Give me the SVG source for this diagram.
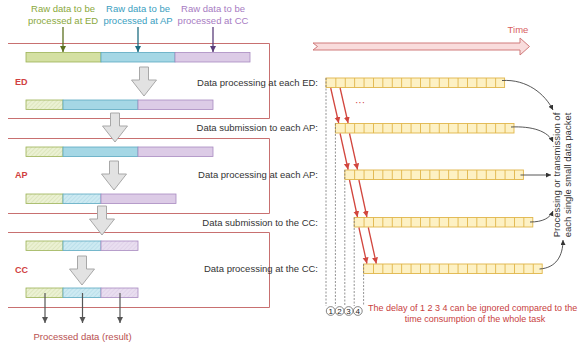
<svg xmlns="http://www.w3.org/2000/svg" width="582" height="346" viewBox="0 0 582 346">
<defs>
<style>
text{font-family:"Liberation Sans",Arial,sans-serif}
.lbl{font-size:9.5px;fill:#333}
.red{fill:#d04040;font-weight:bold;font-size:9px}
.box{fill:none;stroke:#c87070;stroke-width:1}
.g{fill:#d4e0a2;stroke:#9cb256;stroke-width:0.8}
.b{fill:#a5d7e5;stroke:#5aa9c0;stroke-width:0.8}
.p{fill:#dccbe6;stroke:#a98ac0;stroke-width:0.8}
.gh{fill:url(#hg);stroke:#9cb256;stroke-width:0.8}
.bh{fill:url(#hb);stroke:#5aa9c0;stroke-width:0.8}
.ph{fill:url(#hp);stroke:#a98ac0;stroke-width:0.8}
.blk{fill:#e2e2e2;stroke:#a8a8a8;stroke-width:1}
.row{fill:#fdf1c4;stroke:#e0b54a;stroke-width:0.9}
.div{stroke:#e0b54a;stroke-width:9.5;stroke-dasharray:0.9 8.5}
.dash{stroke:#777;stroke-width:0.8;stroke-dasharray:2 1.5;fill:none}
.ra{stroke:#d2463e;stroke-width:1.3;fill:none;marker-end:url(#mr)}
.ca{stroke:#444;stroke-width:0.9;fill:none;marker-end:url(#mk)}
.out{stroke:#555;stroke-width:1.2;fill:none;marker-end:url(#mo)}
</style>
<pattern id="hg" patternUnits="userSpaceOnUse" width="3" height="3" patternTransform="rotate(45)"><rect width="3" height="3" fill="#ebf1d3"/><line x1="0" y1="0" x2="0" y2="3" stroke="#d2dcaa" stroke-width="1"/></pattern>
<pattern id="hb" patternUnits="userSpaceOnUse" width="3" height="3" patternTransform="rotate(45)"><rect width="3" height="3" fill="#cdeaf2"/><line x1="0" y1="0" x2="0" y2="3" stroke="#acd7e5" stroke-width="1"/></pattern>
<pattern id="hp" patternUnits="userSpaceOnUse" width="3" height="3" patternTransform="rotate(45)"><rect width="3" height="3" fill="#e9def0"/><line x1="0" y1="0" x2="0" y2="3" stroke="#d8c8e3" stroke-width="1"/></pattern>
<path id="blkArrow" class="blk" d="M-4.5,0 H4.5 V13 H12.5 L0,29 L-12.5,13 H-4.5 Z"/>
<marker id="mr" markerWidth="8" markerHeight="8" refX="6" refY="3" orient="auto" markerUnits="userSpaceOnUse"><path d="M0,0 L6,3 L0,6 Z" fill="#d2463e"/></marker>
<marker id="mk" markerWidth="7" markerHeight="7" refX="5" refY="2.5" orient="auto" markerUnits="userSpaceOnUse"><path d="M0,0 L5,2.5 L0,5 Z" fill="#333"/></marker>
<marker id="mo" markerWidth="8" markerHeight="8" refX="6" refY="3" orient="auto" markerUnits="userSpaceOnUse"><path d="M0,0 L6,3 L0,6 Z" fill="#555"/></marker>
<marker id="mG" markerWidth="8" markerHeight="8" refX="6" refY="3" orient="auto" markerUnits="userSpaceOnUse"><path d="M0,0 L6,3 L0,6 Z" fill="#5c7020"/></marker>
<marker id="mB" markerWidth="8" markerHeight="8" refX="6" refY="3" orient="auto" markerUnits="userSpaceOnUse"><path d="M0,0 L6,3 L0,6 Z" fill="#1f6e82"/></marker>
<marker id="mP" markerWidth="8" markerHeight="8" refX="6" refY="3" orient="auto" markerUnits="userSpaceOnUse"><path d="M0,0 L6,3 L0,6 Z" fill="#5b3e7a"/></marker>
</defs>
<rect width="582" height="346" fill="#fff"/>

<!-- Top labels -->
<g id="label-raw-ed" font-size="9.5" fill="#8aa83c" text-anchor="middle">
<text x="63" y="12">Raw data to be</text><text x="63" y="24">processed at ED</text>
</g>
<g id="label-raw-ap" font-size="9.5" fill="#3a9ec0" text-anchor="middle">
<text x="138" y="12">Raw data to be</text><text x="138" y="24">processed at AP</text>
</g>
<g id="label-raw-cc" font-size="9.5" fill="#a77bc2" text-anchor="middle">
<text x="213" y="12">Raw data to be</text><text x="213" y="24">processed at CC</text>
</g>

<!-- Boxes -->
<g id="box-ed"><path class="box" d="M8,43.5 H269.5 V118.5 H8"/><text class="red" x="15" y="85">ED</text></g>
<g id="box-ap"><path class="box" d="M8,138.5 H269.5 V213.5 H8"/><text class="red" x="15" y="178">AP</text></g>
<g id="box-cc"><path class="box" d="M8,232.5 H269.5 V307.5 H8"/><text class="red" x="15" y="273">CC</text></g>

<!-- Bars -->
<g id="bar1"><rect class="g" x="26" y="52.5" width="75" height="9.5"/><rect class="b" x="101" y="52.5" width="74" height="9.5"/><rect class="p" x="175" y="52.5" width="75" height="9.5"/></g>
<g id="bar2"><rect class="gh" x="26" y="100" width="37" height="9.5"/><rect class="b" x="63" y="100" width="75" height="9.5"/><rect class="p" x="138" y="100" width="75" height="9.5"/></g>
<g id="bar3"><rect class="gh" x="26" y="147" width="37" height="9.5"/><rect class="b" x="63" y="147" width="75" height="9.5"/><rect class="p" x="138" y="147" width="75" height="9.5"/></g>
<g id="bar4"><rect class="gh" x="26" y="194" width="37" height="9.5"/><rect class="bh" x="63" y="194" width="38" height="9.5"/><rect class="p" x="101" y="194" width="75" height="9.5"/></g>
<g id="bar5"><rect class="gh" x="26" y="241" width="37" height="9.5"/><rect class="bh" x="63" y="241" width="38" height="9.5"/><rect class="ph" x="101" y="241" width="37" height="9.5"/></g>
<g id="bar6"><rect class="gh" x="26" y="288" width="37" height="9.5"/><rect class="bh" x="63" y="288" width="38" height="9.5"/><rect class="ph" x="101" y="288" width="37" height="9.5"/></g>

<!-- Block arrows -->
<g id="step-arrows">
<use href="#blkArrow" transform="translate(144,67)"/>
<use href="#blkArrow" transform="translate(115,113)"/>
<use href="#blkArrow" transform="translate(114,161)"/>
<use href="#blkArrow" transform="translate(102,206)"/>
<use href="#blkArrow" transform="translate(82,256)"/>
</g>

<!-- Step labels -->
<g id="step-labels" class="lbl" text-anchor="end">
<text class="lbl" x="318" y="85.5">Data processing at each ED:</text>
<text class="lbl" x="318" y="131">Data submission to each AP:</text>
<text class="lbl" x="318" y="178">Data processing at each AP:</text>
<text class="lbl" x="318" y="225.5">Data submission to the CC:</text>
<text class="lbl" x="318" y="272">Data processing at the CC:</text>
</g>

<!-- Result label -->
<g id="label-result"><text x="82.5" y="340" font-size="9.5" fill="#b85050" text-anchor="middle">Processed data (result)</text></g>

<!-- Time arrow -->
<g id="time-arrow">
<path d="M313,43 H520 V38 L529.5,46.5 L520,55 V50 H313 L317.5,46.5 Z" fill="#f9dcdc" stroke="#d07a7a" stroke-width="1"/>
<text x="518" y="33" font-size="9.5" fill="#d86060" text-anchor="middle">Time</text>
</g>

<!-- Packet rows -->
<g id="row-ed"><rect class="row" x="326" y="78" width="178.6" height="9.5"/><line class="div" x1="335.4" y1="82.75" x2="504" y2="82.75"/></g>
<g id="row-ap-sub"><rect class="row" x="335.4" y="123.5" width="178.6" height="9.5"/><line class="div" x1="344.8" y1="128.25" x2="513.5" y2="128.25"/></g>
<g id="row-ap-proc"><rect class="row" x="344.8" y="170" width="178.6" height="9.5"/><line class="div" x1="354.2" y1="174.75" x2="523" y2="174.75"/></g>
<g id="row-cc-sub"><rect class="row" x="354.2" y="217.5" width="178.6" height="9.5"/><line class="div" x1="363.6" y1="222.25" x2="532.5" y2="222.25"/></g>
<g id="row-cc-proc"><rect class="row" x="363.6" y="264" width="178.6" height="9.5"/><line class="div" x1="373" y1="268.75" x2="542" y2="268.75"/></g>

<!-- Vertical label -->
<g id="label-packet" font-size="9.5" fill="#333" text-anchor="middle">
<text x="560" y="175" transform="rotate(-90 560 175)">Processing or transmission of</text>
<text x="571" y="175" transform="rotate(-90 571 175)">each single small data packet</text>
</g>

<!-- Delay markers -->
<g id="delay-markers">
<circle cx="330.7" cy="311" r="4.4" fill="#fff" stroke="#666" stroke-width="0.8"/>
<circle cx="339.6" cy="311" r="4.4" fill="#fff" stroke="#666" stroke-width="0.8"/>
<circle cx="348.6" cy="311" r="4.4" fill="#fff" stroke="#666" stroke-width="0.8"/>
<circle cx="357.8" cy="311" r="4.4" fill="#fff" stroke="#666" stroke-width="0.8"/>
<g font-size="8" fill="#222" text-anchor="middle">
<text x="330.7" y="314">1</text><text x="339.6" y="314">2</text><text x="348.6" y="314">3</text><text x="357.8" y="314">4</text>
</g>
</g>
<g id="label-delay" font-size="9" fill="#c84040">
<text x="368" y="310.5">The delay of 1 2 3 4 can be ignored compared to the</text>
<text x="475" y="321.5" text-anchor="middle">time consumption of the whole task</text>
</g>
<g id="label-dots"><text x="360" y="106" font-size="10" fill="#d04040" text-anchor="middle">···</text></g>

<!-- Connectors -->
<g id="connectors">
<line x1="63" y1="27" x2="63" y2="52" stroke="#5c7020" stroke-width="1.3" marker-end="url(#mG)"/>
<line x1="138" y1="27" x2="138" y2="52" stroke="#1f6e82" stroke-width="1.3" marker-end="url(#mB)"/>
<line x1="213" y1="27" x2="213" y2="52" stroke="#5b3e7a" stroke-width="1.3" marker-end="url(#mP)"/>

<line class="out" x1="45" y1="293" x2="45" y2="323"/>
<line class="out" x1="82.5" y1="293" x2="82.5" y2="323"/>
<line class="out" x1="120" y1="293" x2="120" y2="323"/>

<path class="dash" d="M326,78 V306 M335.4,123.5 V306 M344.8,170 V306 M354.2,217.5 V306 M363.6,264 V306"/>

<line class="ra" x1="330.7" y1="88" x2="338.7" y2="123"/>
<line class="ra" x1="340.1" y1="88" x2="348.1" y2="123"/>
<line class="ra" x1="340.1" y1="133.5" x2="348.1" y2="169.5"/>
<line class="ra" x1="349.5" y1="133.5" x2="357.5" y2="169.5"/>
<line class="ra" x1="349.5" y1="180" x2="357.5" y2="217"/>
<line class="ra" x1="358.9" y1="180" x2="366.9" y2="217"/>
<line class="ra" x1="358.9" y1="227.5" x2="366.9" y2="263.5"/>
<line class="ra" x1="368.3" y1="227.5" x2="376.3" y2="263.5"/>

<path class="ca" d="M502,80.5 C527,79 545,94 553,110"/>
<path class="ca" d="M511,127 C532,126 548,131 553,142"/>
<path class="ca" d="M520.5,175 L551,175"/>
<path class="ca" d="M530,222 C543,222 550,218 553,211"/>
<path class="ca" d="M539.5,269 C556,268 563,256 563,240"/>
</g>
</svg>
